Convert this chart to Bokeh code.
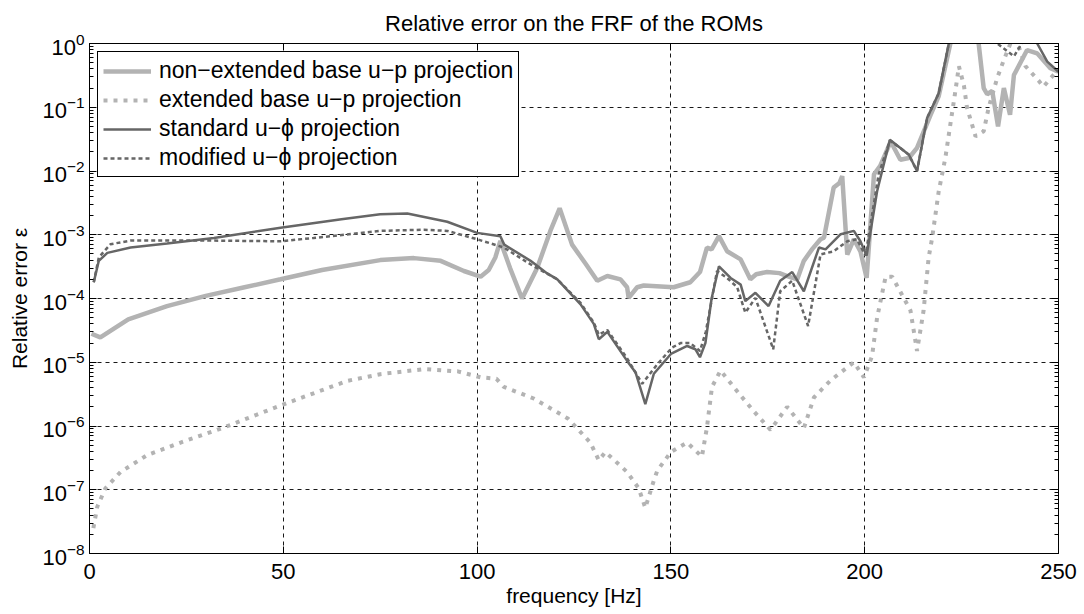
from bokeh.plotting import figure
from bokeh.models import (Range1d, FixedTicker, LinearAxis, LogAxis,
                          CustomJSTickFormatter, Legend, LegendItem)
from bokeh.embed import file_html
from bokeh.resources import INLINE

# ---------------- data ----------------
title_text = "Relative error on the FRF of the ROMs"
x_label = "frequency [Hz]"
y_label = "Relative error \u03b5"
x_ticks = [0, 50, 100, 150, 200, 250]
y_ticks = [1e-8, 1e-7, 1e-6, 1e-5, 1e-4, 1e-3, 1e-2, 1e-1, 1e0]

names = ["non\u2212extended base u\u2212p projection",
         "extended base u\u2212p projection",
         "standard u\u2212\u03d5 projection",
         "modified u\u2212\u03d5 projection"]

f_nonext = [0.5, 2.8, 10, 20, 30, 40, 49.3, 60, 75, 83.7, 90.6, 96.6, 100.9, 103,
            104.7, 106, 108.5, 111.6, 115.5, 118.9, 121.3, 124.5, 128, 131, 133.6,
            137, 138.7, 139.1, 141.3, 143, 150.7, 155, 157.5, 159.3, 160.5, 162.4,
            164.5, 168, 170.5, 172, 174.8, 178, 180, 182.6, 184.3, 186.5, 188.6,
            189.5, 192, 193.5, 194.2, 195.5, 197.2, 198.9, 200.5, 202.4, 204,
            206.7, 209.2, 211.4, 213.5, 217, 219.1, 222.1, 224, 228, 229.4, 230.7,
            231.6, 232.9, 234.4, 235.9, 237.5, 238.5, 241.9, 244.5, 247.9, 250]
e_nonext = [2.8e-5, 2.45e-5, 4.7e-5, 7.6e-5, 1.1e-4, 1.5e-4, 2.0e-4, 2.8e-4, 4.0e-4,
            4.3e-4, 3.9e-4, 2.7e-4, 2.2e-4, 2.8e-4, 4.4e-4, 8.0e-4, 3.0e-4, 1.0e-4,
            3.0e-4, 1.15e-3, 2.6e-3, 7.0e-4, 3.5e-4, 1.9e-4, 2.25e-4, 2.0e-4, 1.5e-4,
            1.02e-4, 1.5e-4, 1.6e-4, 1.5e-4, 1.8e-4, 2.6e-4, 6.3e-4, 5.9e-4, 9.5e-4,
            5.5e-4, 4.1e-4, 2.0e-4, 2.4e-4, 2.6e-4, 2.5e-4, 2.25e-4, 2.0e-4, 3.9e-4,
            6.0e-4, 8.5e-4, 9.0e-4, 5.5e-3, 6.5e-3, 8.3e-3, 4.9e-4, 8.5e-4, 5.5e-4,
            2.1e-4, 8.9e-3, 1.2e-2, 2.9e-2, 1.5e-2, 1.6e-2, 2.3e-2, 7.6e-2, 0.15, 1.0,
            3.0, 3.0, 1.0, 0.20, 0.16, 0.18, 0.05, 0.20, 0.076, 0.32, 0.79, 0.70,
            0.41, 0.36]

f_ext = [1, 2, 4.1, 8, 14.9, 23.5, 34.7, 49.3, 66.5, 75, 86.3, 95, 100.9, 105,
         106.9, 114.6, 123.5, 129.2, 131.4, 133.1, 138.7, 141.7, 143.4, 145.6,
         146.5, 150, 154.2, 158, 159.3, 160.6, 162.8, 168, 171.4, 175.7, 180,
         184.3, 186.9, 191.2, 197.2, 199.8, 201.9, 203.2, 205.4, 207.1, 211.8,
         213.5, 215.2, 216.5, 217.4, 219.1, 220.8, 222.1, 223.4, 224.3, 225.6,
         226.4, 228.6, 230.7, 232, 234.2, 235.9, 237.6, 239, 241.5, 244.9, 246.1,
         248.7, 250]
e_ext = [2.5e-8, 5.4e-8, 1.05e-7, 1.9e-7, 3.5e-7, 5.5e-7, 9.5e-7, 2.1e-6, 5.1e-6,
         6.5e-6, 7.8e-6, 7.2e-6, 5.8e-6, 5.5e-6, 4.1e-6, 2.7e-6, 1.3e-6, 5.5e-7,
         2.9e-7, 3.9e-7, 1.9e-7, 1.05e-7, 5.2e-8, 1.4e-7, 2.0e-7, 3.9e-7, 5.5e-7,
         3.3e-7, 9.5e-7, 4.1e-6, 7.4e-6, 3.0e-6, 1.7e-6, 8.7e-7, 2.0e-6, 9.3e-7,
         2.8e-6, 5.2e-6, 1.0e-5, 5.8e-6, 1.25e-5, 5.0e-5, 2.2e-4, 2.2e-4, 6.5e-5,
         1.5e-5, 6.5e-5, 4.4e-4, 8.9e-4, 4.8e-3, 1.6e-2, 5.4e-2, 0.18, 0.44, 0.22,
         0.098, 0.035, 0.042, 0.10, 0.29, 0.55, 1.0, 1.2, 0.44, 0.26, 0.21, 0.32,
         0.39]

f_std = [1.1, 2.4, 4.6, 10.6, 20, 32.1, 49.3, 65, 75, 82, 92.3, 100, 106, 107,
         113.8, 118, 120.7, 126.7, 130.1, 131.4, 133.6, 138.7, 140.9, 143.4, 145.6,
         150, 154.2, 156.3, 157.5, 158.9, 160.5, 162.4, 165.4, 168, 169.2, 171.8,
         175.2, 178.2, 181.3, 184.3, 188.2, 189.9, 193.8, 197.2, 198.9, 200.5,
         203.2, 206.5, 209.2, 211.4, 213.5, 216.1, 219.1, 221.7, 223, 243, 244.5,
         247.1, 250]
e_std = [1.8e-4, 3.9e-4, 5.2e-4, 6.3e-4, 7.3e-4, 8.9e-4, 1.29e-3, 1.75e-3, 2.1e-3,
         2.15e-3, 1.6e-3, 1.07e-3, 9.5e-4, 7.0e-4, 3.9e-4, 2.5e-4, 2.0e-4, 8.1e-5,
         4.0e-5, 2.3e-5, 3.0e-5, 1.05e-5, 6.9e-6, 2.2e-6, 6.6e-6, 1.35e-5, 1.8e-5,
         1.6e-5, 1.2e-5, 2.0e-5, 1.0e-4, 3.2e-4, 2.1e-4, 1.65e-4, 9.1e-5, 1.23e-4,
         7.6e-5, 1.9e-4, 2.6e-4, 1.3e-4, 6.3e-4, 5.9e-4, 1.02e-3, 1.15e-3, 7.9e-4,
         4.7e-4, 4.8e-3, 3.1e-2, 2.3e-2, 1.8e-2, 1.0e-2, 6.8e-2, 0.166, 1.0, 3.0,
         3.0, 1.0, 0.52, 0.36]

f_mod = [1.1, 2.4, 5.4, 10.6, 32.1, 49.3, 57.8, 75, 86.3, 92.3, 100, 106.9, 114.6,
         120.7, 126.7, 130.1, 131.4, 133.6, 138.7, 142.6, 146.5, 150.3, 152.5, 155,
         157.5, 159, 161.9, 164.5, 167.1, 169.2, 171.8, 176.4, 178.2, 181.3, 185.4,
         188.6, 192, 195.5, 198, 200.2, 203.6, 206.5, 209.2, 211.4, 213.5, 216.1,
         219.1, 221.7, 223, 232, 234.2, 238.5, 240.5, 242, 250]
e_mod = [1.8e-4, 4.4e-4, 7.1e-4, 8.1e-4, 8.1e-4, 7.9e-4, 8.9e-4, 1.15e-3, 1.2e-3,
         1.15e-3, 8.5e-4, 6.3e-4, 3.2e-4, 2.0e-4, 8.5e-5, 4.2e-5, 2.7e-5, 3.2e-5,
         1.15e-5, 4.6e-6, 9.3e-6, 1.7e-5, 2.0e-5, 2.0e-5, 1.5e-5, 3.0e-5, 2.7e-4,
         2.1e-4, 1.5e-4, 6.0e-5, 1.02e-4, 1.6e-5, 1.3e-4, 1.9e-4, 3.7e-5, 4.9e-4,
         5.5e-4, 7.9e-4, 8.5e-4, 4.7e-4, 8.9e-3, 3.0e-2, 2.3e-2, 1.8e-2, 1.0e-2,
         6.8e-2, 0.166, 1.0, 3.0, 3.0, 1.0, 0.63, 1.0, 3.0, 3.0]

# ---------------- figure ----------------
FONT = "Liberation Sans"
LIGHT = "#b3b3b3"
DARK = "#666666"

p = figure(width=1084, height=614, output_backend="svg", toolbar_location=None,
           y_axis_type="log", x_range=Range1d(0, 250), y_range=Range1d(1e-8, 1),
           min_border_left=89, min_border_right=26, min_border_top=42,
           min_border_bottom=61)

p.title.text = title_text
p.title.align = "center"
p.title.text_font = FONT
p.title.text_font_style = "normal"
p.title.text_font_size = "22px"
p.title.text_color = "black"
p.title.standoff = 16

p.outline_line_color = "black"
p.outline_line_alpha = 1.0
p.outline_line_width = 1
p.background_fill_color = "white"
p.border_fill_color = "white"

minor = [k * 10.0 ** n for n in range(-8, 0) for k in range(2, 10)]
xt = FixedTicker(ticks=x_ticks, minor_ticks=[])
yt = FixedTicker(ticks=y_ticks, minor_ticks=minor)

xa = p.below[0]
ya = p.left[0]
xa.ticker = xt
ya.ticker = yt
xa.axis_label = x_label
ya.axis_label = y_label

top_ax = LinearAxis(ticker=xt, formatter=CustomJSTickFormatter(code="return ''"))
right_ax = LogAxis(ticker=yt, formatter=CustomJSTickFormatter(code="return ''"))
p.add_layout(top_ax, "above")
p.add_layout(right_ax, "right")

for ax in [xa, ya, top_ax, right_ax]:
    ax.axis_line_color = "black"
    ax.axis_line_width = 1
    ax.major_tick_line_color = "black"
    ax.minor_tick_line_color = "black"
    ax.major_tick_in = 7
    ax.major_tick_out = 0
    ax.minor_tick_in = 4
    ax.minor_tick_out = 0
    ax.major_label_text_font = FONT
    ax.major_label_text_font_size = "22px"
    ax.major_label_text_color = "black"
    ax.axis_label_text_font = FONT
    ax.axis_label_text_font_size = "21px"
    ax.axis_label_text_font_style = "normal"
    ax.axis_label_text_color = "black"

top_ax.major_label_text_font_size = "0px"
right_ax.major_label_text_font_size = "0px"
xa.major_label_standoff = 10
xa.axis_label_standoff = 2
ya.major_label_standoff = 5
ya.axis_label_standoff = 8
top_ax.major_label_standoff = 0
right_ax.major_label_standoff = 0

for g in (p.xgrid[0], p.ygrid[0]):
    g.grid_line_color = "black"
    g.grid_line_alpha = 0.9
    g.grid_line_width = 1
    g.grid_line_dash = "4 4"

r1 = p.line(f_nonext, e_nonext, line_color=LIGHT, line_width=4.5)
r2 = p.line(f_ext, e_ext, line_color=LIGHT, line_width=4, line_dash="4 6")
r3 = p.line(f_std, e_std, line_color=DARK, line_width=2.5)
r4 = p.line(f_mod, e_mod, line_color=DARK, line_width=2.5, line_dash="4 3")

legend = Legend(items=[LegendItem(label=names[0], renderers=[r1]),
                       LegendItem(label=names[1], renderers=[r2]),
                       LegendItem(label=names[2], renderers=[r3]),
                       LegendItem(label=names[3], renderers=[r4])],
                location="top_left")
legend.label_text_font = FONT
legend.label_text_font_size = "23px"
legend.label_text_color = "black"
legend.border_line_color = "black"
legend.border_line_width = 1
legend.border_line_alpha = 1
legend.background_fill_color = "white"
legend.background_fill_alpha = 1
legend.glyph_width = 48
legend.glyph_height = 26
legend.label_height = 26
legend.label_standoff = 8
legend.spacing = 2
legend.padding = 5
legend.margin = 8
p.add_layout(legend)

open("out.html", "w").write(file_html(p, INLINE))
